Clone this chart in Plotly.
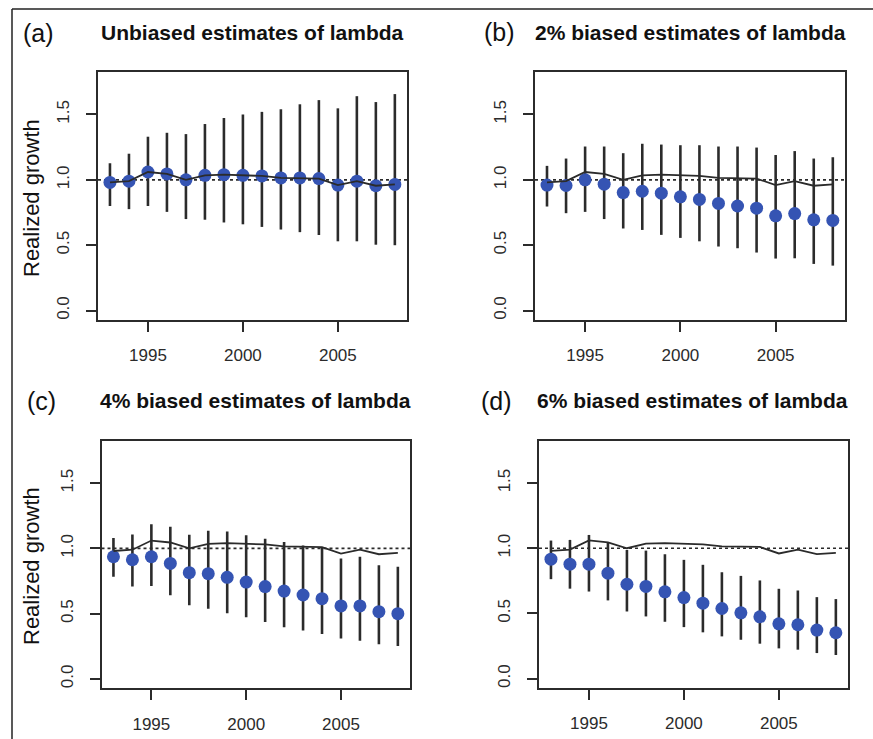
import plotly.graph_objects as go

years = list(range(1993, 2009))

realized_growth = [0.98, 0.99, 1.06, 1.045, 1.0, 1.035, 1.04, 1.035, 1.03, 1.015, 1.015, 1.01, 0.96, 0.99, 0.955, 0.965]

# Panel (a): unbiased
est_a = [0.98, 0.99, 1.06, 1.045, 1.0, 1.035, 1.04, 1.035, 1.03, 1.015, 1.015, 1.01, 0.96, 0.99, 0.955, 0.965]
hi_a = [1.127, 1.20, 1.33, 1.36, 1.35, 1.427, 1.473, 1.50, 1.52, 1.54, 1.578, 1.61, 1.547, 1.64, 1.595, 1.656]
lo_a = [0.80, 0.776, 0.80, 0.755, 0.70, 0.695, 0.674, 0.66, 0.64, 0.62, 0.60, 0.578, 0.53, 0.53, 0.504, 0.50]

# Panel (b): 2% biased
est_b = [0.96, 0.957, 1.0, 0.967, 0.903, 0.913, 0.898, 0.87, 0.85, 0.82, 0.80, 0.783, 0.725, 0.742, 0.694, 0.69]
hi_b = [1.107, 1.163, 1.255, 1.255, 1.204, 1.276, 1.27, 1.265, 1.265, 1.255, 1.255, 1.247, 1.19, 1.22, 1.163, 1.173]
lo_b = [0.796, 0.745, 0.755, 0.70, 0.628, 0.617, 0.579, 0.556, 0.53, 0.49, 0.477, 0.444, 0.398, 0.40, 0.357, 0.344]

# Panel (c): 4% biased
est_c = [0.936, 0.913, 0.936, 0.885, 0.814, 0.806, 0.778, 0.742, 0.707, 0.673, 0.643, 0.615, 0.559, 0.559, 0.515, 0.50]
hi_c = [1.08, 1.107, 1.184, 1.166, 1.105, 1.135, 1.13, 1.10, 1.074, 1.048, 1.023, 1.005, 0.923, 0.936, 0.87, 0.86]
lo_c = [0.783, 0.707, 0.712, 0.64, 0.564, 0.538, 0.503, 0.472, 0.436, 0.395, 0.37, 0.344, 0.309, 0.293, 0.265, 0.253]

# Panel (d): 6% biased
est_d = [0.916, 0.878, 0.878, 0.809, 0.724, 0.707, 0.666, 0.622, 0.579, 0.538, 0.505, 0.474, 0.42, 0.413, 0.372, 0.352]
hi_d = [1.059, 1.064, 1.102, 1.043, 0.987, 0.982, 0.954, 0.911, 0.873, 0.816, 0.788, 0.753, 0.689, 0.676, 0.625, 0.61]
lo_d = [0.763, 0.69, 0.668, 0.60, 0.515, 0.477, 0.436, 0.395, 0.355, 0.324, 0.298, 0.268, 0.232, 0.222, 0.196, 0.181]

panel_labels = ["(a)", "(b)", "(c)", "(d)"]
panel_titles = ["Unbiased estimates of lambda", "2% biased estimates of lambda",
                "4% biased estimates of lambda", "6% biased estimates of lambda"]
y_title = "Realized growth"
x_tickvals = [1995, 2000, 2005]
y_tickvals = [0.0, 0.5, 1.0, 1.5]
y_ticktext = ["0.0", "0.5", "1.0", "1.5"]

W, H = 873, 739
FONT = "Liberation Sans, Arial, sans-serif"
DARK = "#2b2b2b"
BLUE = "#3554b3"

panels = [
    (est_a, hi_a, lo_a, (98, 407), (72, 320)),
    (est_b, hi_b, lo_b, (535, 845), (72, 320)),
    (est_c, hi_c, lo_c, (101.5, 410), (440.7, 688.3)),
    (est_d, hi_d, lo_d, (539, 848), (440.7, 688)),
]

fig = go.Figure()
layout = dict(
    width=W, height=H,
    margin=dict(l=0, r=0, t=0, b=0),
    paper_bgcolor="white", plot_bgcolor="white",
    showlegend=False,
    font=dict(family=FONT, color=DARK),
)

for i, (est, hi, lo, (px0, px1), (py0, py1)) in enumerate(panels):
    n = i + 1
    xa = "x" if n == 1 else f"x{n}"
    ya = "y" if n == 1 else f"y{n}"
    up = [h - e for h, e in zip(hi, est)]
    dn = [e - l for e, l in zip(est, lo)]
    fig.add_trace(go.Scatter(
        x=years, y=est, mode="markers", xaxis=xa, yaxis=ya,
        marker=dict(color=BLUE, size=13, line=dict(width=0)),
        error_y=dict(type="data", symmetric=False, array=up, arrayminus=dn,
                     width=0, thickness=2.6, color=DARK),
    ))
    fig.add_trace(go.Scatter(
        x=years, y=realized_growth, mode="lines", xaxis=xa, yaxis=ya,
        line=dict(color=DARK, width=1.8),
    ))
    fig.add_shape(type="line", xref=f"{xa} domain", yref=ya, x0=0, x1=1, y0=1.0, y1=1.0,
                  line=dict(color=DARK, width=1.6, dash="dot"), layer="below")

    xkey = "xaxis" if n == 1 else f"xaxis{n}"
    ykey = "yaxis" if n == 1 else f"yaxis{n}"
    layout[xkey] = dict(
        domain=[px0 / W, px1 / W], anchor=ya, range=[1992.37, 2008.64],
        tickvals=x_tickvals, ticks="outside", ticklen=10, tickwidth=1.6, tickcolor=DARK,
        showline=True, linecolor=DARK, linewidth=1.8, mirror=True,
        showgrid=False, zeroline=False,
        tickfont=dict(size=17, family=FONT, color=DARK), ticklabelstandoff=9,
    )
    layout[ykey] = dict(
        domain=[1 - py1 / H, 1 - py0 / H], anchor=xa, range=[-0.072, 1.825],
        tickvals=y_tickvals, ticktext=y_ticktext, tickangle=-90,
        ticks="outside", ticklen=10, tickwidth=1.6, tickcolor=DARK,
        showline=True, linecolor=DARK, linewidth=1.8, mirror=True,
        showgrid=False, zeroline=False,
        tickfont=dict(size=17, family=FONT, color=DARK), ticklabelstandoff=10,
    )

annotations = []
label_pos = [(38, 33), (500, 32), (41, 401), (496, 401)]
title_pos = [(252.5, 32), (690, 32), (255.5, 400), (692, 400)]
for lab, (lx, ly) in zip(panel_labels, label_pos):
    annotations.append(dict(text=lab, x=lx / W, y=1 - ly / H, xref="paper", yref="paper",
                            showarrow=False, xanchor="center", yanchor="middle",
                            font=dict(size=25, family=FONT, color="#111")))
for t, (tx, ty) in zip(panel_titles, title_pos):
    annotations.append(dict(text=f"<b>{t}</b>", x=tx / W, y=1 - ty / H, xref="paper", yref="paper",
                            showarrow=False, xanchor="center", yanchor="middle",
                            font=dict(size=21, family=FONT, color="#111")))
for cy in (198, 566):
    annotations.append(dict(text=y_title, x=31 / W, y=1 - cy / H, xref="paper", yref="paper",
                            showarrow=False, xanchor="center", yanchor="middle", textangle=-90,
                            font=dict(size=22, family=FONT, color="#111")))
layout["annotations"] = annotations

# outer frame (left and top edges visible)
fig.add_shape(type="line", xref="paper", yref="paper", x0=12 / W, x1=12 / W, y0=0, y1=1 - 9 / H,
              line=dict(color="#222", width=1.5))
fig.add_shape(type="line", xref="paper", yref="paper", x0=12 / W, x1=1, y0=1 - 9 / H, y1=1 - 9 / H,
              line=dict(color="#222", width=1.5))

fig.update_layout(**layout)
fig.write_html("out.html", config={"displayModeBar": False},
               post_script="document.body.style.margin='0px';document.body.style.overflow='hidden';")
